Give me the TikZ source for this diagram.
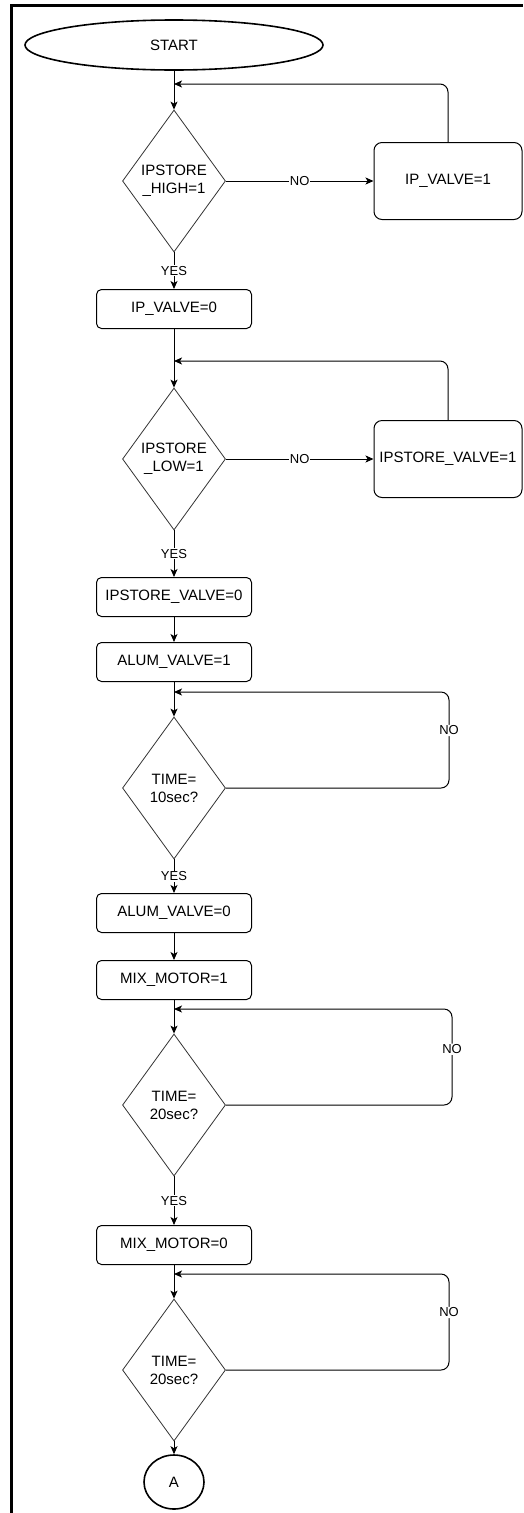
\documentclass[tikz,border=0pt]{standalone}
\usepackage{fontspec}
\setmainfont{Liberation Sans}
\usetikzlibrary{arrows.meta}
\usetikzlibrary{shapes.geometric}

\begin{document}
\begin{tikzpicture}[x=1pt,y=-1pt,
  txt/.style={font=\fontsize{15}{18}\selectfont},
  stepbox/.style={txt,draw,rounded corners=5pt,line width=1pt,minimum width=155pt,minimum height=39pt,inner sep=2pt},
  bigbox/.style={txt,draw,rounded corners=8pt,line width=1pt,minimum width=148pt,minimum height=77pt,inner sep=0pt},
  decision/.style={txt,draw=black!80,diamond,align=center,line width=0.8pt,minimum width=103pt,minimum height=142pt,inner sep=1pt},
  terminal/.style={txt,draw,ellipse,line width=1.6pt},
  arr/.style={-{Stealth[length=8pt,width=7pt,inset=2pt]},line width=1pt},
  loop/.style={arr,rounded corners=8pt},
  lbl/.style={font=\fontsize{13}{15}\selectfont,fill=white,inner sep=1pt}]

\useasboundingbox (0,0) rectangle (523,1513);
\draw[line width=3pt] (11,1513)--(11,5)--(523,5);

\node[terminal,minimum width=298pt,minimum height=50pt] (start) at (174,45) {START};
\node[decision] (high) at (174,181) {IPSTORE\\\_HIGH=1};
\node[bigbox] (ipon) at (448,181) {IP\_VALVE=1};
\node[stepbox] (ipoff) at (174,309) {IP\_VALVE=0};
\node[decision] (low) at (174,459) {IPSTORE\\\_LOW=1};
\node[bigbox] (ston) at (448,459) {IPSTORE\_VALVE=1};
\node[stepbox] (stoff) at (174,597) {IPSTORE\_VALVE=0};
\node[stepbox] (alon) at (174,662) {ALUM\_VALVE=1};
\node[decision] (tten) at (174,788) {TIME=\\10sec?};
\node[stepbox] (aloff) at (174,913) {ALUM\_VALVE=0};
\node[stepbox] (mxon) at (174,980) {MIX\_MOTOR=1};
\node[decision] (ttwa) at (174,1105) {TIME=\\20sec?};
\node[stepbox] (mxoff) at (174,1245) {MIX\_MOTOR=0};
\node[decision] (ttwb) at (174,1370) {TIME=\\20sec?};
\node[terminal,minimum width=60pt,minimum height=54pt,inner sep=0pt] (A) at (174,1482) {A};

\coordinate (j1) at (174,84);
\coordinate (j2) at (174,361);
\coordinate (j3) at (174,692);
\coordinate (j4) at (174,1009);
\coordinate (j5) at (174,1274);
\coordinate (r3a) at (449,788);
\coordinate (r3b) at (449,692);
\coordinate (r4a) at (452,1105);
\coordinate (r4b) at (452,1009);
\coordinate (r5a) at (449,1370);
\coordinate (r5b) at (449,1274);

\draw[arr] (start) -- (high);
\draw[arr] (high) -- node[lbl]{NO} (ipon);
\draw[loop] (ipon.north) |- (j1);
\draw[arr] (high) -- node[lbl]{YES} (ipoff);

\draw[arr] (ipoff) -- (low);
\draw[arr] (low) -- node[lbl]{NO} (ston);
\draw[loop] (ston.north) |- (j2);
\draw[arr] (low) -- node[lbl]{YES} (stoff);

\draw[arr] (stoff) -- (alon);
\draw[arr] (alon) -- (tten);
\draw[loop] (tten.east) -- (r3a) -- node[lbl,pos=0.6]{NO} (r3b) -- (j3);
\draw[arr] (tten) -- node[lbl]{YES} (aloff);

\draw[arr] (aloff) -- (mxon);
\draw[arr] (mxon) -- (ttwa);
\draw[loop] (ttwa.east) -- (r4a) -- node[lbl,pos=0.58]{NO} (r4b) -- (j4);
\draw[arr] (ttwa) -- node[lbl]{YES} (mxoff);

\draw[arr] (mxoff) -- (ttwb);
\draw[loop] (ttwb.east) -- (r5a) -- node[lbl,pos=0.6]{NO} (r5b) -- (j5);
\draw[arr] (ttwb) -- (A);
\end{tikzpicture}
\end{document}
